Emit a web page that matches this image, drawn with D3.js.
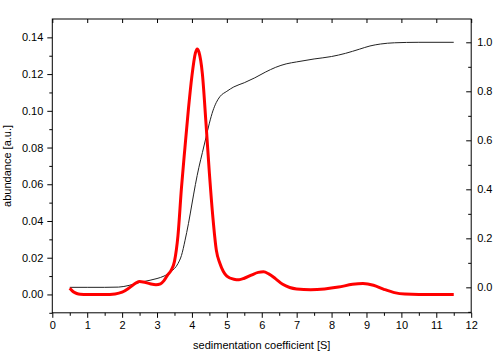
<!DOCTYPE html>
<html><head><meta charset="utf-8">
<script src="https://cdn.jsdelivr.net/npm/d3@7"></script>
<style>body{margin:0;background:#fff}svg{display:block}text{font-family:"Liberation Sans",Arial,sans-serif}</style>
</head><body><svg id="c" width="500" height="360"></svg>
<script>
const sedimentation = [0.5,0.6,0.7,0.8,1.0,1.5,1.8,2.0,2.2,2.4,2.5,2.6,2.8,2.97,3.1,3.2,3.3,3.4,3.5,3.6,3.7,3.8,3.9,4.0,4.1,4.15,4.2,4.3,4.4,4.5,4.6,4.7,4.8,4.9,5.0,5.2,5.35,5.5,5.7,5.9,6.05,6.2,6.4,6.6,6.8,7.0,7.4,7.8,8.2,8.6,8.9,9.2,9.5,9.8,10.1,10.5,11.0,11.5];
const abundance = [0.0034,0.0015,0.0005,0.0001,0.0,0.0,0.0003,0.0012,0.0035,0.0063,0.0070,0.0068,0.0058,0.0053,0.0058,0.0075,0.0105,0.013,0.018,0.032,0.058,0.080,0.101,0.119,0.1315,0.1337,0.132,0.120,0.094,0.066,0.042,0.024,0.017,0.0125,0.0100,0.0083,0.0080,0.0088,0.0105,0.0120,0.0123,0.0112,0.0085,0.0055,0.0038,0.0030,0.0026,0.0030,0.0040,0.0055,0.0059,0.0050,0.0028,0.0010,0.0002,0.0,0.0,0.0];
const cumS = [0.5,1.0,1.5,1.9,2.2,2.5,2.8,3.0,3.2,3.4,3.6,3.7,3.8,3.9,4.0,4.1,4.2,4.3,4.4,4.5,4.6,4.7,4.8,5.0,5.2,5.5,5.8,6.1,6.4,6.7,7.0,7.5,8.0,8.4,8.8,9.1,9.4,9.8,10.5,11.5];
const cumulative = [0.0,0.0,0.0,0.001,0.008,0.020,0.029,0.036,0.046,0.064,0.097,0.13,0.19,0.26,0.34,0.42,0.49,0.55,0.61,0.67,0.72,0.755,0.778,0.80,0.818,0.835,0.855,0.878,0.898,0.912,0.92,0.932,0.942,0.955,0.972,0.985,0.993,0.998,1.0,1.0];
const xTicks = [0,1,2,3,4,5,6,7,8,9,10,11,12];
const yLeftTicks = [0.00,0.02,0.04,0.06,0.08,0.10,0.12,0.14];
const yRightTicks = [0.0,0.2,0.4,0.6,0.8,1.0];

const svg = d3.select("#c");
const L=52.3, R=471.2, T=19, B=312.8;
const x = d3.scaleLinear().domain([0,12]).range([L,R]);
const yL = d3.scaleLinear().domain([-0.01,0.15]).range([B,T]);
const yR = d3.scaleLinear().domain([-0.1039,1.0951]).range([B,T]);
const fs = 11;

svg.append("rect").attr("x",L).attr("y",T).attr("width",R-L).attr("height",B-T)
  .attr("fill","none").attr("stroke","#000").attr("stroke-width",1);

svg.append("g").attr("transform",`translate(0,${B})`)
  .call(d3.axisBottom(x).tickValues(xTicks).tickSize(5).tickSizeOuter(0).tickPadding(3).tickFormat(d3.format("d")));
svg.append("g").attr("transform",`translate(0,${B})`)
  .call(d3.axisBottom(x).tickValues(d3.range(0.5,12,1)).tickSize(3).tickSizeOuter(0).tickFormat(""));
svg.append("g").attr("transform",`translate(0,${T})`)
  .call(d3.axisBottom(x).tickValues(xTicks).tickSize(4).tickSizeOuter(0).tickFormat(""));

svg.append("g").attr("transform",`translate(${L},0)`)
  .call(d3.axisLeft(yL).tickValues(yLeftTicks).tickSize(5).tickSizeOuter(0).tickPadding(4).tickFormat(d3.format(".2f")));
svg.append("g").attr("transform",`translate(${L},0)`)
  .call(d3.axisLeft(yL).tickValues(d3.range(-0.01,0.15,0.02)).tickSize(3).tickSizeOuter(0).tickFormat(""));

const gR = svg.append("g").attr("transform",`translate(${R},0)`)
  .call(d3.axisLeft(yR).tickValues(yRightTicks).tickSize(5).tickSizeOuter(0).tickFormat(d3.format(".1f")));
gR.selectAll(".tick text").attr("x",6).attr("text-anchor","start");
svg.append("g").attr("transform",`translate(${R},0)`)
  .call(d3.axisLeft(yR).tickValues(d3.range(-0.1,1.05,0.2)).tickSize(3).tickSizeOuter(0).tickFormat(""));

svg.selectAll(".domain").remove();
svg.selectAll(".tick line").attr("stroke","#000");
svg.selectAll(".tick text").attr("font-size",fs).attr("fill","#000").attr("font-family",'"Liberation Sans",Arial,sans-serif');

svg.append("text").attr("x",(L+R)/2).attr("y",349).attr("text-anchor","middle").attr("font-size",fs)
  .text("sedimentation coefficient [S]");
svg.append("text").attr("transform",`translate(11,${(T+B)/2}) rotate(-90)`).attr("text-anchor","middle").attr("font-size",fs)
  .text("abundance [a.u.]");

const lineA = d3.line().x((d,i)=>x(sedimentation[i])).y(d=>yL(d)).curve(d3.curveMonotoneX);
const lineC = d3.line().x((d,i)=>x(cumS[i])).y(d=>yR(d)).curve(d3.curveMonotoneX);
svg.append("path").attr("d",lineC(cumulative)).attr("fill","none").attr("stroke","#222").attr("stroke-width",1);
svg.append("path").attr("d",lineA(abundance)).attr("fill","none").attr("stroke","#ff0000").attr("stroke-width",3).attr("stroke-linejoin","round");
</script></body></html>
